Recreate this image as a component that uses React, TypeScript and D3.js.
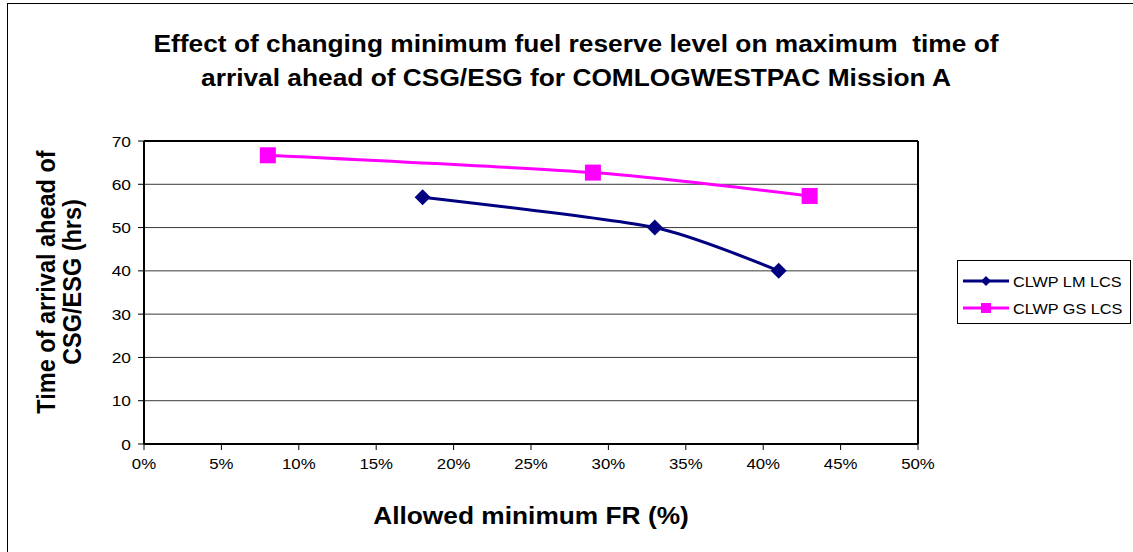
import React from 'react';
import * as d3 from 'd3';

// values
const seriesNames = ['CLWP LM LCS', 'CLWP GS LCS'];
const lmFR = [18, 33, 41];
const lmHours = [57, 50, 40];
const gsFR = [8, 29, 43];
const gsHours = [66.7, 62.7, 57.3];
const xTicks = [0, 5, 10, 15, 20, 25, 30, 35, 40, 45, 50];
const yTicks = [0, 10, 20, 30, 40, 50, 60, 70];
const titleLines = [
  'Effect of changing minimum fuel reserve level on maximum  time of',
  'arrival ahead of CSG/ESG for COMLOGWESTPAC Mission A',
];
const yTitleLines = ['Time of arrival ahead of', 'CSG/ESG (hrs)'];
const xTitle = 'Allowed minimum FR (%)';

const W = 1133;
const H = 552;
const plot = { left: 144, top: 141, right: 918, bottom: 444 };
const font = 'Arial, "Liberation Sans", sans-serif';
// the reference text is a bit wider than it is tall
const sx = 1.12;

const App: React.FC = () => {
  const x = d3.scaleLinear().domain([0, 50]).range([plot.left, plot.right]);
  const y = d3.scaleLinear().domain([0, 70]).range([plot.bottom, plot.top]);

  const line = d3
    .line<[number, number]>()
    .x((d) => x(d[0]))
    .y((d) => y(d[1]))
    .curve(d3.curveCardinal.tension(0.35));

  const lm = lmFR.map((v, i) => [v, lmHours[i]] as [number, number]);
  const gs = gsFR.map((v, i) => [v, gsHours[i]] as [number, number]);

  const navy = '#000080';
  const pink = '#FF00FF';

  const diamond = (cx: number, cy: number, r = 8) =>
    `M${cx},${cy - r}L${cx + r},${cy}L${cx},${cy + r}L${cx - r},${cy}Z`;

  const legendX = 957;
  const legendY = 260;

  return (
    <svg
      width={W}
      height={H}
      style={{ position: 'absolute', left: 0, top: 0, background: '#fff' }}
      fontFamily={font}
    >
      {/* outer chart frame */}
      <rect x={7.5} y={3.5} width={W + 20} height={H + 20} fill="#fff" stroke="#000" strokeWidth={1} />

      {/* title */}
      {titleLines.map((t, i) => (
        <text
          key={i}
          transform={`translate(576,${52 + i * 34}) scale(${sx},1)`}
          textAnchor="middle"
          fontSize={23.5}
          fontWeight="bold"
          style={{ whiteSpace: 'pre' }}
        >
          {t}
        </text>
      ))}

      {/* grid lines */}
      {yTicks.slice(1).map((t) => (
        <line key={t} x1={plot.left} x2={plot.right} y1={y(t)} y2={y(t)} stroke="#3a3a3a" strokeWidth={1} />
      ))}
      {/* plot border */}
      <line x1={plot.left} x2={plot.right} y1={plot.top} y2={plot.top} stroke="#000" strokeWidth={2} />
      <line x1={plot.right} x2={plot.right} y1={plot.top} y2={plot.bottom} stroke="#000" strokeWidth={2} />

      {/* y axis */}
      <line x1={plot.left} x2={plot.left} y1={plot.top} y2={plot.bottom} stroke="#000" strokeWidth={2} />
      {yTicks.map((t) => (
        <g key={t}>
          <line x1={plot.left - 6} x2={plot.left} y1={y(t)} y2={y(t)} stroke="#000" strokeWidth={1} />
          <text
            transform={`translate(131,${y(t) + 5.5}) scale(${sx},1)`}
            textAnchor="end"
            fontSize={15.5}
          >
            {t}
          </text>
        </g>
      ))}

      {/* x axis */}
      <line x1={plot.left} x2={plot.right} y1={plot.bottom} y2={plot.bottom} stroke="#000" strokeWidth={2} />
      {xTicks.map((t) => (
        <g key={t}>
          <line x1={x(t)} x2={x(t)} y1={plot.bottom} y2={plot.bottom + 6} stroke="#000" strokeWidth={1} />
          <text
            transform={`translate(${x(t)},469) scale(${sx},1)`}
            textAnchor="middle"
            fontSize={15}
          >
            {t + '%'}
          </text>
        </g>
      ))}

      {/* axis titles */}
      <text
        transform={`translate(531,524) scale(${sx},1)`}
        textAnchor="middle"
        fontSize={23.5}
        fontWeight="bold"
      >
        {xTitle}
      </text>
      {yTitleLines.map((t, i) => (
        <text
          key={i}
          transform={`translate(${55 + i * 26},282) scale(${sx},1) rotate(-90)`}
          textAnchor="middle"
          fontSize={23.5}
          fontWeight="bold"
        >
          {t}
        </text>
      ))}

      {/* series */}
      <path d={line(gs) || ''} fill="none" stroke={pink} strokeWidth={3} />
      <path d={line(lm) || ''} fill="none" stroke={navy} strokeWidth={3} />
      {gs.map((d, i) => (
        <rect key={i} x={x(d[0]) - 8} y={y(d[1]) - 8} width={16} height={16} fill={pink} />
      ))}
      {lm.map((d, i) => (
        <path key={i} d={diamond(x(d[0]), y(d[1]))} fill={navy} />
      ))}

      {/* legend */}
      <rect x={legendX + 0.5} y={legendY + 0.5} width={173} height={63} fill="#fff" stroke="#000" strokeWidth={1} />
      {seriesNames.map((name, i) => {
        const cy = legendY + 21 + i * 27;
        const color = i === 0 ? navy : pink;
        return (
          <g key={name}>
            <line x1={legendX + 6} x2={legendX + 52} y1={cy} y2={cy} stroke={color} strokeWidth={3} />
            {i === 0 ? (
              <path d={diamond(legendX + 29, cy, 5)} fill={navy} />
            ) : (
              <rect x={legendX + 24} y={cy - 5} width={10} height={10} fill={pink} />
            )}
            <text
              transform={`translate(${legendX + 56},${cy + 5.5}) scale(${sx},1)`}
              fontSize={14.5}
            >
              {name}
            </text>
          </g>
        );
      })}
    </svg>
  );
};

export default App;
